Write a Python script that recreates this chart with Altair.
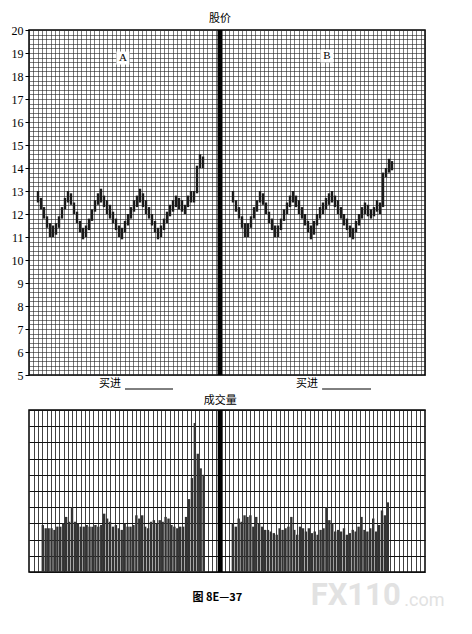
import altair as alt
import pandas as pd

# ---------------- data ----------------
A_HIGH = [13.0, 12.7, 12.3, 11.9, 11.6, 11.5, 11.6, 11.9, 12.3, 12.7, 13.0, 12.9, 12.5, 12.1,
          11.7, 11.4, 11.5, 11.8, 12.2, 12.6, 12.9, 13.1, 12.8, 12.6, 12.4, 12.1, 11.8, 11.5,
          11.4, 11.7, 12.0, 12.3, 12.6, 12.8, 13.1, 12.9, 12.6, 12.3, 12.0, 11.7, 11.4, 11.5,
          11.8, 12.1, 12.4, 12.6, 12.8, 12.7, 12.6, 12.4, 12.8, 13.0, 13.0, 14.1, 14.6, 14.5]
A_LOW = [12.5, 12.2, 11.8, 11.4, 11.0, 11.0, 11.1, 11.4, 11.8, 12.2, 12.5, 12.4, 12.0, 11.6,
         11.2, 10.9, 11.0, 11.3, 11.7, 12.1, 12.4, 12.5, 12.3, 12.0, 11.8, 11.6, 11.3, 11.0,
         10.9, 11.2, 11.5, 11.8, 12.1, 12.3, 12.5, 12.3, 12.0, 11.8, 11.5, 11.2, 10.9, 11.0,
         11.3, 11.6, 11.9, 12.1, 12.3, 12.2, 12.1, 12.0, 12.3, 12.5, 12.5, 12.9, 14.0, 14.0]
B_HIGH = [13.0, 12.6, 12.3, 11.9, 11.6, 11.6, 11.9, 12.3, 12.6, 13.0, 12.9, 12.5, 12.1, 11.8,
          11.5, 11.5, 11.8, 12.2, 12.5, 12.8, 13.0, 12.8, 12.6, 12.3, 12.0, 11.7, 11.5, 11.7,
          12.0, 12.3, 12.5, 12.7, 12.9, 13.0, 12.8, 12.6, 12.3, 12.0, 11.8, 11.5, 11.4, 11.7,
          12.0, 12.3, 12.5, 12.4, 12.2, 12.3, 12.6, 12.5, 13.8, 14.0, 14.4, 14.3]
B_LOW = [12.5, 12.1, 11.8, 11.4, 11.0, 11.0, 11.4, 11.8, 12.1, 12.5, 12.4, 12.0, 11.6, 11.3,
         11.0, 11.0, 11.3, 11.7, 12.0, 12.3, 12.5, 12.3, 12.0, 11.8, 11.5, 11.2, 10.9, 11.1,
         11.5, 11.8, 12.0, 12.2, 12.4, 12.5, 12.3, 12.0, 11.8, 11.5, 11.3, 11.0, 10.9, 11.2,
         11.5, 11.8, 12.0, 11.9, 11.8, 11.9, 12.1, 12.0, 12.3, 13.6, 13.8, 13.9]
A_VOL = [29, 27, 27, 27, 26, 28, 28, 30, 34, 31, 40, 31, 30, 28, 28, 29, 28, 28, 29, 28,
         29, 36, 33, 31, 28, 29, 27, 26, 30, 28, 28, 29, 35, 33, 35, 28, 27, 31, 32, 30,
         32, 31, 34, 33, 29, 28, 27, 28, 28, 34, 45, 58, 92, 73, 64, 60]
B_VOL = [30, 28, 33, 31, 35, 34, 35, 28, 34, 30, 28, 26, 26, 25, 24, 23, 27, 26, 27, 28,
         34, 26, 23, 28, 27, 25, 27, 24, 25, 23, 26, 27, 40, 32, 30, 25, 26, 25, 27, 23,
         24, 26, 25, 28, 34, 26, 25, 27, 33, 25, 29, 38, 35, 43]
PRICE_TICKS = list(range(5, 21))
PANEL_LABELS = ["A", "B"]
BUY_TEXT = "买进"
PRICE_TITLE = "股价"
VOLUME_TITLE = "成交量"
CAPTION = "图 8E—37"

# ---------------- layout helpers ----------------
N_SLOTS = 132          # horizontal day-slot units across the plot
A_START, B_START = 3, 68
DIVIDER = 63.67
W, H_PRICE, H_VOL = 396, 345, 162

price_df = pd.DataFrame({
    "slot": [A_START + i for i in range(len(A_HIGH))] + [B_START + i for i in range(len(B_HIGH))],
    "high": A_HIGH + B_HIGH,
    "low": A_LOW + B_LOW,
})
vol_df = pd.DataFrame({
    "slot": [A_START + i for i in range(len(A_VOL))] + [B_START + i for i in range(len(B_VOL))],
    "vol": A_VOL + B_VOL,
})
div_df = pd.DataFrame({"slot": [DIVIDER]})
lab_df = pd.DataFrame({"slot": [31.3, 99.3], "val": [18.78, 18.87], "t": PANEL_LABELS})
buy_df = pd.DataFrame({"slot": [27.0, 92.7], "t": [BUY_TEXT, BUY_TEXT]})
line_df = pd.DataFrame({"slot": [32.0, 97.7], "x2": [48.0, 114.0]})
ttl_df = pd.DataFrame({"slot": [DIVIDER], "t": [PRICE_TITLE]})
vttl_df = pd.DataFrame({"slot": [DIVIDER], "t": [VOLUME_TITLE]})
cap_df = pd.DataFrame({"slot": [62.7], "t": [CAPTION]})
wm_df = pd.DataFrame({"slot": [110.0], "t": ["FX110"]})
wm2_df = pd.DataFrame({"slot": [133.5], "t": [".com"]})

xs = alt.Scale(domain=[0, N_SLOTS], nice=False, zero=False)
ys_price = alt.Scale(domain=[5, 20], nice=False, zero=False)
ys_vol = alt.Scale(domain=[0, 100], nice=False, zero=False)

xgrid = [round(i * 1.45, 3) for i in range(int(N_SLOTS / 1.45) + 1)]
ygrid = [round(5 + 0.2 * k, 2) for k in range(76)]

IS_INT = "abs(datum.value - round(datum.value)) < 0.001"

x_axis_p = alt.Axis(values=xgrid, grid=True, labels=False, ticks=False, domain=False,
                    title=None, gridColor="#222", gridWidth=0.6)
y_axis_p = alt.Axis(values=ygrid, grid=True, ticks=True, tickSize=4, tickColor="black",
                    tickOpacity={"condition": {"test": IS_INT, "value": 1}, "value": 0},
                    domain=False, title=None,
                    labelExpr=IS_INT + " ? format(datum.value, '.0f') : ''",
                    labelFont="Liberation Serif", labelFontSize=12, labelColor="black",
                    labelPadding=2, labelOverlap=False, labelFlush=False,
                    gridColor="#222", gridWidth=0.6)
x_axis_v = alt.Axis(values=xgrid, grid=True, labels=False, ticks=False, domain=False,
                    title=None, gridColor="#111", gridWidth=0.8)
y_axis_v = alt.Axis(values=list(range(0, 101, 10)), grid=True, labels=False, ticks=False,
                    domain=False, title=None, gridColor="#111", gridWidth=1)


def XP(f="slot"):
    return alt.X(f"{f}:Q", scale=xs, axis=x_axis_p)


def XV(f="slot"):
    return alt.X(f"{f}:Q", scale=xs, axis=x_axis_v)


price_bars = alt.Chart(price_df).mark_rule(strokeWidth=2.4, color="#1a1a1a").encode(
    x=XP(),
    y=alt.Y("low:Q", scale=ys_price, axis=y_axis_p),
    y2="high:Q",
)
divider = alt.Chart(div_df).mark_rule(strokeWidth=5, color="black").encode(x=XP())
label_box = alt.Chart(lab_df).mark_square(size=170, color="white", opacity=1).encode(
    x=XP(), y=alt.Y("val:Q", scale=ys_price, axis=y_axis_p))
label_txt = alt.Chart(lab_df).mark_text(font="Liberation Serif", fontSize=11, color="black").encode(
    x=XP(), y=alt.Y("val:Q", scale=ys_price, axis=y_axis_p), text="t:N")
title_txt = alt.Chart(ttl_df).mark_text(font="Noto Sans CJK SC", fontSize=11, color="black",
                                        baseline="middle").encode(
    x=XP(), y=alt.value(-11), text="t:N")
buy_txt = alt.Chart(buy_df).mark_text(font="Noto Sans CJK SC", fontSize=11, color="black",
                                      baseline="middle").encode(
    x=XP(), y=alt.value(H_PRICE + 9), text="t:N")
buy_line = alt.Chart(line_df).mark_rule(strokeWidth=1, color="black").encode(
    x=XP(), x2="x2:Q", y=alt.value(H_PRICE + 14))

price = alt.layer(price_bars, divider, label_box, label_txt, title_txt, buy_txt, buy_line).properties(
    width=W, height=H_PRICE)

vol_bars = alt.Chart(vol_df).mark_bar(width=2.4, color="#333").encode(
    x=XV(),
    y=alt.Y("vol:Q", scale=ys_vol, axis=y_axis_v),
)
vdivider = alt.Chart(div_df).mark_rule(strokeWidth=5, color="black").encode(x=XV())
vtitle = alt.Chart(vttl_df).mark_text(font="Noto Sans CJK SC", fontSize=11, color="black",
                                      baseline="middle").encode(
    x=XV(), y=alt.value(-9), text="t:N")
caption = alt.Chart(cap_df).mark_text(font="Noto Sans CJK SC", fontSize=11, fontWeight="bold",
                                      color="black", baseline="middle").encode(
    x=XV(), y=alt.value(188), text="t:N")
wm = alt.Chart(wm_df).mark_text(font="Roboto", fontSize=31, fontWeight="bold", color="#e2e2e2",
                                baseline="middle").encode(
    x=XV(), y=alt.value(186), text="t:N")
wm2 = alt.Chart(wm2_df).mark_text(font="Roboto", fontSize=18, color="#e2e2e2",
                                  baseline="middle").encode(
    x=XV(), y=alt.value(191), text="t:N")

volume = alt.layer(vol_bars, vdivider, vtitle, caption, wm, wm2).properties(width=W, height=H_VOL)

chart = alt.vconcat(price, volume, spacing=35, bounds="flush").properties(
    padding={"left": 2, "top": 4, "right": 5, "bottom": 5},
    background="white",
).configure_view(stroke="black", strokeWidth=1.5)

chart.save("out.html", embed_options={"renderer": "svg", "actions": False})
